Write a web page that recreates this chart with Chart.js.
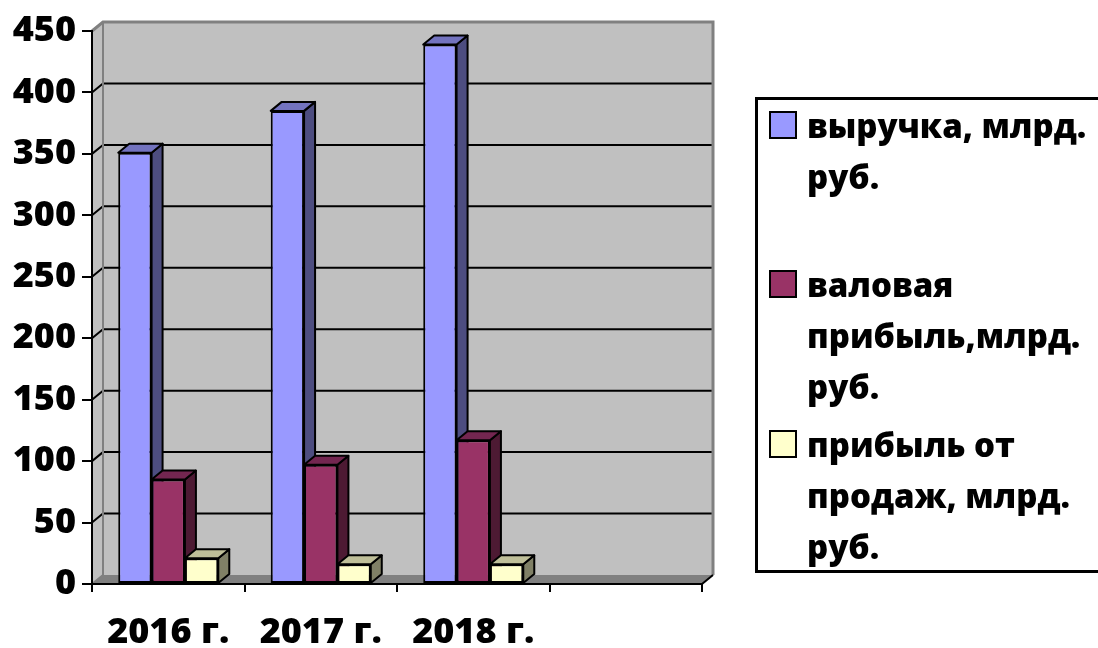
<!DOCTYPE html>
<html>
<head>
<meta charset="utf-8">
<script src="https://cdn.jsdelivr.net/npm/chart.js@4/dist/chart.umd.min.js"></script>
<style>
  html, body { margin: 0; padding: 0; background: #fff; overflow: hidden; }
  #wrap { position: relative; width: 1098px; height: 648px; }
  #legend {
    position: absolute; left: 755px; top: 97px; width: 360px; height: 476px;
    border: 3px solid #000; box-sizing: border-box;
  }
  .item { position: absolute; left: 0; }
  .swatch { position: absolute; left: 11px; width: 28px; height: 28px; border: 2px solid #000; box-sizing: border-box; }
  .txt {
    position: absolute; left: 49px; white-space: nowrap;
    font: 800 33px "Open Sans", sans-serif; line-height: 51px; color: #000;
  }
</style>
</head>
<body>
<div id="wrap">
  <canvas id="chart" width="1098" height="648"></canvas>
  <div id="legend"></div>
</div>
<script>
// данные с графика
const categories = ['2016 г.', '2017 г.', '2018 г.', ''];
const revenue = [351, 385, 439, null];
const grossProfit = [85, 97, 117, null];
const salesProfit = [21, 16, 16, null];
const yTicks = [0, 50, 100, 150, 200, 250, 300, 350, 400, 450];

// подписи легенды (по строкам, как на картинке)
const seriesNames = [
  ['выручка, млрд.', 'руб.'],
  ['валовая', 'прибыль,млрд.', 'руб.'],
  ['прибыль от', 'продаж, млрд.', 'руб.']
];

// цвета: лицевая грань, верх, бок
const frontColors = ['#9999FF', '#993366', '#FFFFCC'];
const topColors = ['#7373BF', '#732650', '#BFBF99'];
const sideColors = ['#4D4D80', '#4D1A33', '#808066'];

const DX = 11, DY = 9; // глубина "3D"

const box3d = {
  id: 'box3d',
  beforeDraw(chart) {
    const { ctx, chartArea: a, scales: { y } } = chart;
    ctx.save();
    // боковая стенка + задняя стенка
    ctx.fillStyle = '#C0C0C0';
    ctx.beginPath();
    ctx.moveTo(a.left, a.top);
    ctx.lineTo(a.left + DX, a.top - DY);
    ctx.lineTo(a.left + DX, a.bottom - DY);
    ctx.lineTo(a.left, a.bottom);
    ctx.closePath();
    ctx.fill();
    ctx.fillRect(a.left + DX, a.top - DY, a.right - a.left, a.bottom - a.top);
    // пол
    ctx.fillStyle = '#808080';
    ctx.beginPath();
    ctx.moveTo(a.left, a.bottom);
    ctx.lineTo(a.right, a.bottom);
    ctx.lineTo(a.right + DX, a.bottom - DY);
    ctx.lineTo(a.left + DX, a.bottom - DY);
    ctx.closePath();
    ctx.fill();
    // линии сетки на стенках
    ctx.strokeStyle = '#000';
    ctx.lineWidth = 2;
    yTicks.forEach(v => {
      if (v === yTicks[0] || v === yTicks[yTicks.length - 1]) return;
      const py = y.getPixelForValue(v);
      ctx.beginPath();
      ctx.moveTo(a.left, py);
      ctx.lineTo(a.left + DX, py - DY);
      ctx.lineTo(a.right + DX, py - DY);
      ctx.stroke();
    });
    // края стенок
    ctx.strokeStyle = '#808080';
    ctx.lineWidth = 3;
    ctx.beginPath();
    ctx.moveTo(a.left, a.top);
    ctx.lineTo(a.left + DX, a.top - DY);
    ctx.lineTo(a.right + DX, a.top - DY);
    ctx.lineTo(a.right + DX, a.bottom - DY);
    ctx.stroke();
    ctx.lineWidth = 2;
    ctx.beginPath();
    ctx.moveTo(a.left + DX, a.top - DY);
    ctx.lineTo(a.left + DX, a.bottom - DY);
    ctx.moveTo(a.left, a.bottom);
    ctx.lineTo(a.left + DX, a.bottom - DY);
    ctx.stroke();
    ctx.strokeStyle = '#000';
    ctx.beginPath();
    ctx.moveTo(a.right, a.bottom);
    ctx.lineTo(a.right + DX, a.bottom - DY);
    ctx.stroke();
    ctx.restore();
  },
  beforeDatasetsDraw(chart) {
    const { ctx } = chart;
    ctx.save();
    ctx.strokeStyle = '#000';
    ctx.lineWidth = 2;
    ctx.lineJoin = 'round';
    categories.forEach((c, i) => {
      chart.data.datasets.forEach((ds, d) => {
        if (ds.data[i] == null) return;
        const el = chart.getDatasetMeta(d).data[i];
        const { x, y, base, width } = el.getProps(['x', 'y', 'base', 'width'], true);
        const x0 = x - width / 2, x1 = x + width / 2;
        // бок
        ctx.fillStyle = sideColors[d];
        ctx.beginPath();
        ctx.moveTo(x1, y);
        ctx.lineTo(x1 + DX, y - DY);
        ctx.lineTo(x1 + DX, base - DY);
        ctx.lineTo(x1, base);
        ctx.closePath();
        ctx.fill();
        ctx.stroke();
        // верх
        ctx.fillStyle = topColors[d];
        ctx.beginPath();
        ctx.moveTo(x0, y);
        ctx.lineTo(x1, y);
        ctx.lineTo(x1 + DX, y - DY);
        ctx.lineTo(x0 + DX, y - DY);
        ctx.closePath();
        ctx.fill();
        ctx.stroke();
      });
    });
    ctx.restore();
  }
};

const tickFont = { family: '"Open Sans", sans-serif', size: 36, weight: 800 };

const chart = new Chart(document.getElementById('chart'), {
  type: 'bar',
  data: {
    labels: categories,
    datasets: [
      { label: seriesNames[0].join(' '), data: revenue },
      { label: seriesNames[1].join(' '), data: grossProfit },
      { label: seriesNames[2].join(' '), data: salesProfit }
    ].map((ds, i) => Object.assign(ds, {
      backgroundColor: frontColors[i],
      borderColor: '#000',
      borderWidth: 2,
      borderSkipped: false,
      categoryPercentage: 0.656,
      barPercentage: 1
    }))
  },
  options: {
    responsive: false,
    animation: false,
    layout: { padding: { top: 31, right: 396, bottom: 0, left: 0 } },
    plugins: {
      legend: { display: false },
      tooltip: { enabled: false }
    },
    scales: {
      x: {
        grid: { offset: true, drawOnChartArea: false, tickLength: 8, color: '#000', lineWidth: 2 },
        border: { color: '#000', width: 2 },
        ticks: { font: tickFont, color: '#000', padding: 19, maxRotation: 0, autoSkip: false },
        afterFit: s => { s.height = 64; }
      },
      y: {
        min: 0,
        max: 450,
        grid: { drawOnChartArea: false, tickLength: 10, color: '#000', lineWidth: 2 },
        border: { color: '#000', width: 2 },
        ticks: { stepSize: 50, font: tickFont, color: '#000', padding: 6 },
        afterFit: s => { s.width = 92; }
      }
    }
  },
  plugins: [box3d]
});

// легенда в HTML
const legend = document.getElementById('legend');
const entryTop = [11, 170, 330];
seriesNames.forEach((lines, i) => {
  const item = document.createElement('div');
  item.className = 'item';
  item.style.top = entryTop[i] + 'px';
  item.innerHTML = '<div class="swatch" style="top:0;background:' + frontColors[i] + '"></div>' +
    '<div class="txt" style="top:-11px">' + lines.join('<br>') + '</div>';
  legend.appendChild(item);
});
</script>
</body>
</html>
